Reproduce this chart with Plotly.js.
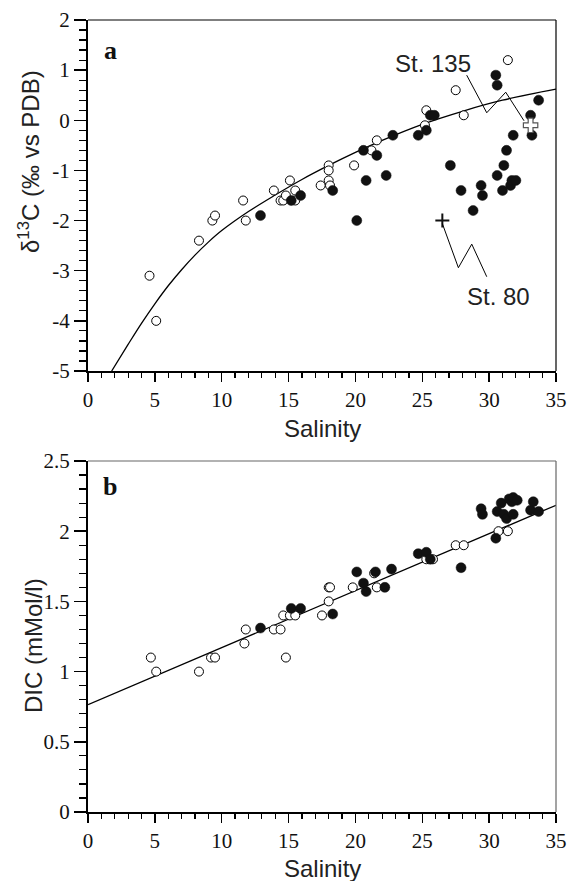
<!DOCTYPE html>
<html>
<head>
<meta charset="utf-8">
<script src="https://cdn.plot.ly/plotly-3.0.1.min.js"></script>
<style>html,body{margin:0;padding:0;background:#fff;}#chart{width:568px;height:881px;}</style>
</head>
<body>
<div id="chart"></div>
<script>
// ---------- Panel a: delta13C vs salinity ----------
const aOpenSal = [4.6,5.1,8.3,9.3,9.5,11.6,11.8,13.9,14.4,14.6,14.8,15.1,15.5,15.5,17.4,18.0,18.1,18.0,18.0,19.9,21.2,21.6,25.2,25.3,27.5,28.1,31.4];
const aOpenD13C = [-3.1,-4.0,-2.4,-2.0,-1.9,-1.6,-2.0,-1.4,-1.6,-1.6,-1.5,-1.2,-1.4,-1.6,-1.3,-1.2,-1.3,-0.9,-1.0,-0.9,-0.6,-0.4,-0.1,0.2,0.6,0.1,1.2];
const aFillSal = [12.9,15.2,15.9,18.3,20.1,20.6,20.8,21.6,22.3,22.8,24.7,25.3,25.6,25.9,27.1,27.9,28.8,29.4,29.5,30.5,30.6,30.6,31.0,31.1,31.3,31.6,31.7,32.0,31.8,33.1,33.2,33.7];
const aFillD13C = [-1.9,-1.6,-1.5,-1.4,-2.0,-0.6,-1.2,-0.7,-1.1,-0.3,-0.3,-0.2,0.1,0.1,-0.9,-1.4,-1.8,-1.3,-1.5,0.9,0.7,-1.1,-1.4,-0.9,-0.6,-1.3,-1.2,-1.2,-0.3,0.1,-0.3,0.4];
const st135Sal = [33.1], st135D13C = [-0.1];
const st80Sal = [26.5], st80D13C = [-2.0];
// mixing curve
const curveSal = [1.77,3,4,5,6,7,8,9,10,12,14,16,18,20,22,25,28,31,35];
const curveD13C = [-5.0,-4.47,-4.05,-3.66,-3.30,-2.98,-2.69,-2.43,-2.20,-1.82,-1.49,-1.18,-0.90,-0.64,-0.40,-0.08,0.18,0.40,0.62];
const aYTickVals = [-5,-4,-3,-2,-1,0,1,2];
const aYTickText = ['-5','-4','-3','-2','-1','0','1','2'];

// ---------- Panel b: DIC vs salinity ----------
const bOpenSal = [4.7,5.1,8.3,9.2,9.5,11.7,11.8,13.9,14.4,14.8,14.6,15.1,15.5,17.5,18.0,18.0,18.1,19.8,21.4,21.6,25.3,25.8,27.5,28.1,31.4,30.7];
const bOpenDIC = [1.1,1.0,1.0,1.1,1.1,1.2,1.3,1.3,1.3,1.1,1.4,1.4,1.4,1.4,1.5,1.6,1.6,1.6,1.7,1.6,1.8,1.8,1.9,1.9,2.0,2.0];
const bFillSal = [12.9,15.2,15.9,18.3,20.1,20.6,20.8,21.5,22.2,22.7,24.7,25.3,25.6,27.9,29.4,29.5,30.5,30.6,30.9,31.1,31.3,31.5,31.7,31.8,31.8,32.1,33.1,33.3,33.7];
const bFillDIC = [1.31,1.45,1.45,1.41,1.71,1.63,1.57,1.71,1.6,1.73,1.84,1.85,1.8,1.74,2.16,2.12,1.95,2.14,2.2,2.12,2.09,2.23,2.21,2.24,2.12,2.22,2.15,2.21,2.14];
const lineSal = [0,35];
const lineDIC = [0.765,2.185];
const xTickVals = [0,5,10,15,20,25,30,35];
const xTickText = ['0','5','10','15','20','25','30','35'];

const serif = 'Liberation Serif, Times New Roman, serif';
const sans = 'Liberation Sans, Arial, sans-serif';

const openMarker = {symbol:'circle', size:9, color:'#ffffff', line:{color:'#000', width:1}};
const fillMarker = {symbol:'circle', size:10, color:'#111', line:{color:'#111', width:0.5}};

const traces = [
  {x:curveSal, y:curveD13C, xaxis:'x', yaxis:'y', mode:'lines', line:{color:'#000', width:1.3, shape:'spline', smoothing:1}, hoverinfo:'skip'},
  {x:aOpenSal, y:aOpenD13C, xaxis:'x', yaxis:'y', mode:'markers', marker:openMarker},
  {x:aFillSal, y:aFillD13C, xaxis:'x', yaxis:'y', mode:'markers', marker:fillMarker},
  {x:st135Sal, y:st135D13C, xaxis:'x', yaxis:'y', mode:'markers', marker:{symbol:'cross', size:12, color:'#fff', line:{color:'#555', width:1.2}}},
  {x:st80Sal, y:st80D13C, xaxis:'x', yaxis:'y', mode:'markers', marker:{symbol:'cross-thin', size:10, color:'#111', line:{color:'#111', width:2}}},
  {x:lineSal, y:lineDIC, xaxis:'x2', yaxis:'y2', mode:'lines', line:{color:'#000', width:1.3}, hoverinfo:'skip'},
  {x:bOpenSal, y:bOpenDIC, xaxis:'x2', yaxis:'y2', mode:'markers', marker:openMarker},
  {x:bFillSal, y:bFillDIC, xaxis:'x2', yaxis:'y2', mode:'markers', marker:fillMarker}
];

function xAxis(anchor){
  return {domain:[88/568, 556/568], anchor:anchor, range:[0,35], tickmode:'array', tickvals:xTickVals, ticktext:xTickText,
    ticks:'outside', ticklen:9, tickwidth:1.5, tickcolor:'#000',
    minor:{dtick:1, ticks:'outside', ticklen:5, tickwidth:1.2, tickcolor:'#000', showgrid:false},
    showline:true, linewidth:2, linecolor:'#000', showgrid:false, zeroline:false,
    tickfont:{family:serif, size:21, color:'#111'}, fixedrange:true};
}
const layout = {
  width:568, height:881, margin:{l:0,r:0,t:0,b:0}, paper_bgcolor:'#fff', plot_bgcolor:'#fff', showlegend:false,
  xaxis: xAxis('y'),
  yaxis: {domain:[1-371/881, 1-20/881], anchor:'x', range:[-5,2], tickmode:'array', tickvals:aYTickVals, ticktext:aYTickText,
    ticks:'outside', ticklen:12, tickwidth:1.5, tickcolor:'#000',
    minor:{dtick:0.2, ticks:'outside', ticklen:7, tickwidth:1.2, tickcolor:'#000', showgrid:false},
    showline:true, linewidth:2, linecolor:'#000', showgrid:false, zeroline:false,
    tickfont:{family:serif, size:21, color:'#111'}},
  xaxis2: xAxis('y2'),
  yaxis2: {domain:[1-812/881, 1-461/881], anchor:'x2', range:[0,2.5], dtick:0.5, tick0:0,
    ticks:'outside', ticklen:12, tickwidth:1.5, tickcolor:'#000',
    minor:{dtick:0.1, ticks:'outside', ticklen:7, tickwidth:1.2, tickcolor:'#000', showgrid:false},
    showline:true, linewidth:2, linecolor:'#000', showgrid:false, zeroline:false,
    tickfont:{family:serif, size:21, color:'#111'}},
  shapes:[
    {type:'line', xref:'x domain', yref:'y domain', x0:0, x1:1, y0:1, y1:1, line:{color:'#000', width:1.2}},
    {type:'line', xref:'x domain', yref:'y domain', x0:1, x1:1, y0:0, y1:1, line:{color:'#000', width:1.2}},
    {type:'line', xref:'x2 domain', yref:'y2 domain', x0:0, x1:1, y0:1, y1:1, line:{color:'#666', width:1.2}},
    {type:'line', xref:'x2 domain', yref:'y2 domain', x0:1, x1:1, y0:0, y1:1, line:{color:'#666', width:1.2}},
    {type:'path', xref:'x', yref:'y', path:'M 28.32,0.90 L 29.82,0.15 L 31.24,0.56 L 32.61,-0.01', line:{color:'#000', width:1}},
    {type:'path', xref:'x', yref:'y', path:'M 26.5,-2.06 L 27.7,-2.94 L 28.7,-2.47 L 29.82,-3.12', line:{color:'#000', width:1}}
  ],
  annotations:[
    {text:'<b>a</b>', xref:'paper', yref:'paper', x:110/568, y:1-50/881, xanchor:'center', yanchor:'middle', showarrow:false, font:{family:serif, size:26, color:'#111'}},
    {text:'<b>b</b>', xref:'paper', yref:'paper', x:110/568, y:1-486/881, xanchor:'center', yanchor:'middle', showarrow:false, font:{family:serif, size:26, color:'#111'}},
    {text:'St. 135', xref:'x', yref:'y', x:25.8, y:1.14, xanchor:'center', yanchor:'middle', showarrow:false, font:{family:sans, size:24, color:'#222'}},
    {text:'St. 80', xref:'x', yref:'y', x:30.67, y:-3.51, xanchor:'center', yanchor:'middle', showarrow:false, font:{family:sans, size:24, color:'#222'}},
    {text:'Salinity', xref:'paper', yref:'paper', x:322/568, y:1-428/881, xanchor:'center', yanchor:'middle', showarrow:false, font:{family:sans, size:24, color:'#222'}},
    {text:'Salinity', xref:'paper', yref:'paper', x:322/568, y:1-868/881, xanchor:'center', yanchor:'middle', showarrow:false, font:{family:sans, size:24, color:'#222'}},
    {text:'δ<sup>13</sup>C (‰ vs PDB)', xref:'paper', yref:'paper', x:29/568, y:1-162/881, xanchor:'center', yanchor:'middle', textangle:-90, showarrow:false, font:{family:sans, size:24, color:'#222'}},
    {text:'DIC (mMol/l)', xref:'paper', yref:'paper', x:33/568, y:1-646/881, xanchor:'center', yanchor:'middle', textangle:-90, showarrow:false, font:{family:sans, size:24, color:'#222'}}
  ]
};
Plotly.newPlot('chart', traces, layout, {staticPlot:true, displayModeBar:false});
</script>
</body>
</html>
